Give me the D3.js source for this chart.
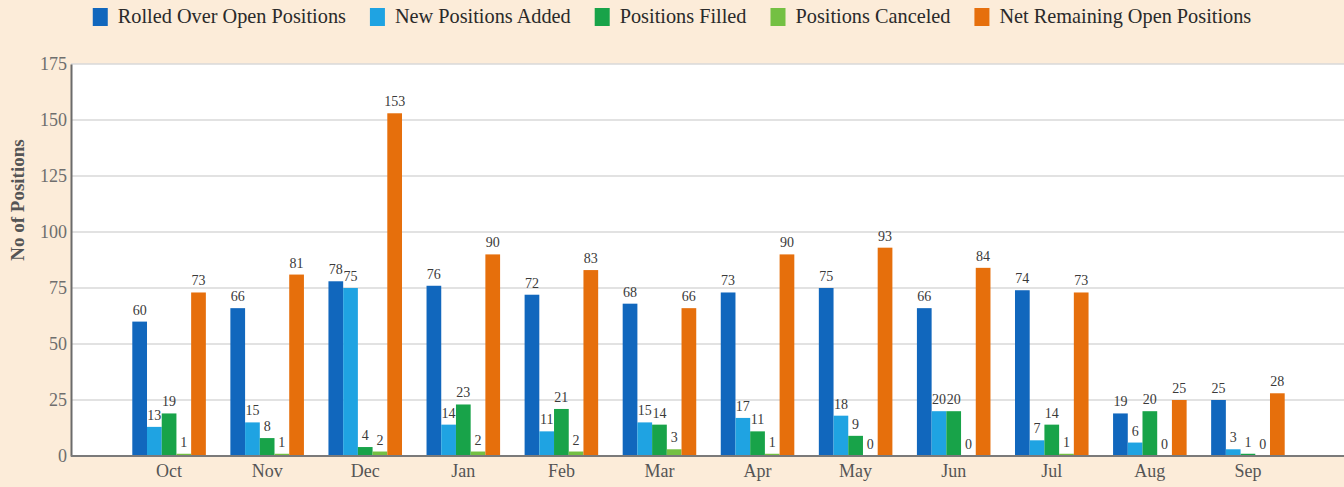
<!DOCTYPE html>
<html>
<head>
<meta charset="utf-8">
<script src="https://cdn.jsdelivr.net/npm/d3@7"></script>
<style>
  html, body { margin: 0; padding: 0; background: #fcecd9; }
  svg { display: block; }
  text { font-family: "Liberation Serif", "Times New Roman", serif; }
</style>
</head>
<body>
<svg id="chart" width="1344" height="487"></svg>
<script>
// Monthly position counts
const months = ["Oct", "Nov", "Dec", "Jan", "Feb", "Mar", "Apr", "May", "Jun", "Jul", "Aug", "Sep"];
const rolledOver = [60, 66, 78, 76, 72, 68, 73, 75, 66, 74, 19, 25];
const newAdded   = [13, 15, 75, 14, 11, 15, 17, 18, 20, 7, 6, 3];
const filled     = [19, 8, 4, 23, 21, 14, 11, 9, 20, 14, 20, 1];
const canceled   = [1, 1, 2, 2, 2, 3, 1, 0, 0, 1, 0, 0];
const netOpen    = [73, 81, 153, 90, 83, 66, 90, 93, 84, 73, 25, 28];
const yTicks = [0, 25, 50, 75, 100, 125, 150, 175];

const series = [
  { name: "Rolled Over Open Positions", values: rolledOver, color: "#1167bd" },
  { name: "New Positions Added", values: newAdded, color: "#1fa3e2" },
  { name: "Positions Filled", values: filled, color: "#18a349" },
  { name: "Positions Canceled", values: canceled, color: "#74c043" },
  { name: "Net Remaining Open Positions", values: netOpen, color: "#e66f0c" }
];

const svg = d3.select("#chart");
const W = 1344, H = 487;
const plot = { left: 71, right: 1346, top: 64, bottom: 456 };

const x = d3.scaleBand().domain(months).range([plot.left, plot.right]).paddingInner(0).paddingOuter(0.5);
const groupW = x.bandwidth() * 0.75;
const xs = d3.scaleBand().domain(series.map(s => s.name)).range([0, groupW]).padding(0);
const y = d3.scaleLinear().domain([0, 175]).range([plot.bottom, plot.top]);

// plot background
svg.append("rect")
  .attr("x", plot.left).attr("y", plot.top)
  .attr("width", W - plot.left).attr("height", plot.bottom - plot.top)
  .attr("fill", "#ffffff");

// gridlines
svg.append("g")
  .selectAll("line")
  .data(yTicks.filter(t => t > 0))
  .join("line")
  .attr("x1", plot.left).attr("x2", W)
  .attr("y1", d => y(d)).attr("y2", d => y(d))
  .attr("stroke", "#d9d9d9").attr("stroke-width", 1.5);

// y axis
const yAxis = svg.append("g")
  .attr("transform", `translate(${plot.left},0)`)
  .call(d3.axisLeft(y).tickValues(yTicks).tickSize(0).tickPadding(4));
yAxis.select(".domain").attr("stroke", "#6b6b6b").attr("stroke-width", 2);
yAxis.selectAll("text")
  .attr("font-size", 18).attr("fill", "#6e6e6e")
  .style("font-family", "Liberation Serif, serif");

// bars
const groups = svg.append("g")
  .selectAll("g")
  .data(months)
  .join("g")
  .attr("transform", m => `translate(${x(m) + (x.bandwidth() - groupW) / 2},0)`);

series.forEach(s => {
  groups.append("rect")
    .attr("x", xs(s.name))
    .attr("width", xs.bandwidth())
    .attr("y", (m, i) => y(s.values[i]))
    .attr("height", (m, i) => y(0) - y(s.values[i]))
    .attr("fill", s.color);
  groups.append("text")
    .attr("x", xs(s.name) + xs.bandwidth() / 2)
    .attr("y", (m, i) => y(s.values[i]) - 7)
    .attr("text-anchor", "middle")
    .attr("font-size", 14)
    .attr("fill", "#3a3a3a")
    .text((m, i) => s.values[i]);
});

// x axis
const xAxis = svg.append("g")
  .attr("transform", `translate(0,${plot.bottom})`)
  .call(d3.axisBottom(x).tickSize(0).tickPadding(8));
xAxis.select(".domain").attr("stroke", "#7a7a7a").attr("stroke-width", 2)
  .attr("d", `M${plot.left},0H${W}`);
xAxis.selectAll("text")
  .attr("font-size", 18).attr("fill", "#555555")
  .style("font-family", "Liberation Serif, serif");

// y axis title
svg.append("text")
  .attr("transform", `translate(24,200) rotate(-90)`)
  .attr("text-anchor", "middle")
  .attr("font-size", 19)
  .attr("font-weight", "bold")
  .attr("fill", "#555555")
  .text("No of Positions");

// legend
const legend = svg.append("g");
let lx = 0;
series.forEach(s => {
  const g = legend.append("g").attr("transform", `translate(${lx},0)`);
  g.append("rect").attr("x", 0).attr("y", 8).attr("width", 15).attr("height", 18).attr("fill", s.color);
  const t = g.append("text").attr("x", 25).attr("y", 23).attr("font-size", 20.3).attr("fill", "#2a2a2a").text(s.name);
  const tw = t.node().getComputedTextLength();
  lx += 25 + tw + 24;
});
const legendW = lx - 24;
legend.attr("transform", `translate(${(W - legendW) / 2},0)`);
</script>
</body>
</html>
